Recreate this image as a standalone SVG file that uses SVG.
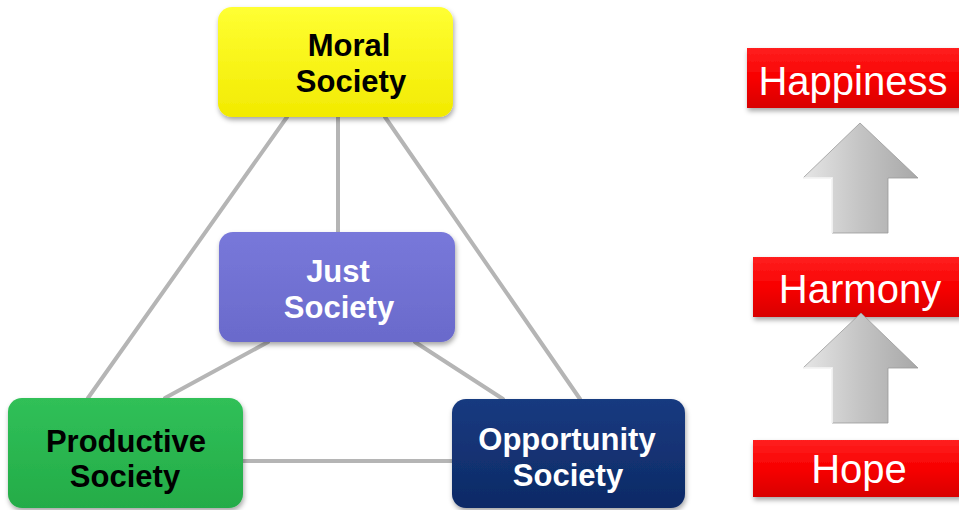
<svg xmlns="http://www.w3.org/2000/svg" width="959" height="510" viewBox="0 0 959 510">
<defs>
<filter id="sh" x="-10%" y="-10%" width="125%" height="130%"><feDropShadow dx="1" dy="3" stdDeviation="2.5" flood-color="#000" flood-opacity="0.35"/></filter>
<linearGradient id="gY" x1="0" y1="0" x2="0" y2="1"><stop offset="0" stop-color="#ffff33"/><stop offset="1" stop-color="#f2ea00"/></linearGradient>
<linearGradient id="gP" x1="0" y1="0" x2="0" y2="1"><stop offset="0" stop-color="#7878da"/><stop offset="1" stop-color="#6a6acb"/></linearGradient>
<linearGradient id="gG" x1="0" y1="0" x2="0" y2="1"><stop offset="0" stop-color="#30c058"/><stop offset="1" stop-color="#24ac48"/></linearGradient>
<linearGradient id="gN" x1="0" y1="0" x2="0" y2="1"><stop offset="0" stop-color="#173a80"/><stop offset="1" stop-color="#0e2a66"/></linearGradient>
<linearGradient id="gR" x1="0" y1="0" x2="0" y2="1"><stop offset="0" stop-color="#ff2020"/><stop offset="0.5" stop-color="#f80000"/><stop offset="1" stop-color="#d80000"/></linearGradient>
<linearGradient id="gA" x1="0" y1="0" x2="1" y2="0"><stop offset="0" stop-color="#e6e6e6"/><stop offset="0.5" stop-color="#c4c4c4"/><stop offset="1" stop-color="#a8a8a8"/></linearGradient>
<style>
.ln{stroke:#b5b5b5;stroke-width:4;fill:none;stroke-linecap:round}
.bt{font-family:"Liberation Sans",Arial,sans-serif;font-weight:bold;font-size:31px;text-anchor:middle}
.rt{font-family:"Liberation Sans",Arial,sans-serif;font-size:40px;fill:#fff;text-anchor:middle}
.arr{fill:url(#gA);stroke:#9a9a9a;stroke-width:0.8}
</style>
</defs>
<rect width="959" height="510" fill="#fff"/>
<g id="connectors">
<line class="ln" x1="287" y1="117" x2="88" y2="398"/>
<line class="ln" x1="338" y1="117" x2="338" y2="232"/>
<line class="ln" x1="385" y1="117" x2="580" y2="399"/>
<line class="ln" x1="268" y1="342" x2="165" y2="398"/>
<line class="ln" x1="415" y1="342" x2="503" y2="399"/>
<line class="ln" x1="243" y1="461" x2="452" y2="461"/>
</g>
<g id="moral">
<rect x="218" y="7" width="235" height="110" rx="14" fill="url(#gY)" filter="url(#sh)"/>
<text class="bt" x="349" y="56" fill="#000">Moral</text>
<text class="bt" x="351" y="92" fill="#000">Society</text>
</g>
<g id="just">
<rect x="219" y="232" width="236" height="110" rx="14" fill="url(#gP)" filter="url(#sh)"/>
<text class="bt" x="338" y="282" fill="#fff">Just</text>
<text class="bt" x="339" y="318" fill="#fff">Society</text>
</g>
<g id="productive">
<rect x="8" y="398" width="235" height="110" rx="14" fill="url(#gG)" filter="url(#sh)"/>
<text class="bt" x="126" y="452" fill="#000">Productive</text>
<text class="bt" x="125" y="487" fill="#000">Society</text>
</g>
<g id="opportunity">
<rect x="452" y="399" width="233" height="109" rx="14" fill="url(#gN)" filter="url(#sh)"/>
<text class="bt" x="567" y="450" fill="#fff">Opportunity</text>
<text class="bt" x="568" y="486" fill="#fff">Society</text>
</g>
<g id="happiness">
<rect x="747" y="48" width="215" height="60" fill="url(#gR)" filter="url(#sh)"/>
<text class="rt" x="853" y="95">Happiness</text>
</g>
<g id="arrow1">
<polygon class="arr" points="860,123 918,178 888,178 888,233 832,233 832,178 803,178"/>
<polyline points="803,178 832,178 832,233" fill="none" stroke="#fff" stroke-width="1.5"/>
</g>
<g id="harmony">
<rect x="753" y="257" width="209" height="60" fill="url(#gR)" filter="url(#sh)"/>
<text class="rt" x="860" y="303">Harmony</text>
</g>
<g id="arrow2">
<polygon class="arr" points="861,313 918,368 888,368 888,423 832,423 832,368 803,368"/>
<polyline points="803,368 832,368 832,423" fill="none" stroke="#fff" stroke-width="1.5"/>
</g>
<g id="hope">
<rect x="753" y="440" width="209" height="57" fill="url(#gR)" filter="url(#sh)"/>
<text class="rt" x="859" y="483">Hope</text>
</g>
</svg>
